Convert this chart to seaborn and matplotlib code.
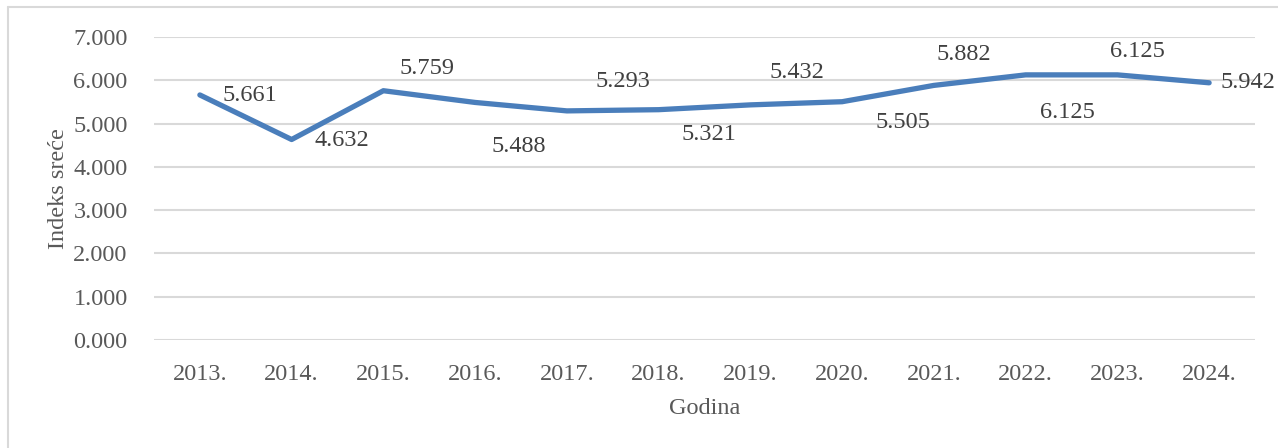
import matplotlib
matplotlib.use("Agg")
import matplotlib.pyplot as plt
import seaborn as sns
import pandas as pd
from matplotlib.lines import Line2D

# podaci
godine = ['2013.', '2014.', '2015.', '2016.', '2017.', '2018.',
          '2019.', '2020.', '2021.', '2022.', '2023.', '2024.']
indeks = [5.661, 4.632, 5.759, 5.488, 5.293, 5.321,
          5.432, 5.505, 5.882, 6.125, 6.125, 5.942]

# pomaci oznaka (px) kao u originalu
label_offsets = [(50, -1), (50, -1), (44, 22), (44, -44), (56, 29), (50, -25),
                 (47, 32), (61, -21), (30, 31), (42, -38), (20, 23), (39, 0)]

df = pd.DataFrame({'Godina': godine, 'Indeks': indeks})

sns.set_style("white")
plt.rcParams['font.family'] = ['Liberation Serif', 'DejaVu Serif']

text_col = '#595959'
fig = plt.figure(figsize=(12.78, 4.48), dpi=100)
ax = fig.add_axes([154 / 1278, 1 - 340 / 448, 1101 / 1278, 303 / 448])

sns.lineplot(data=df, x='Godina', y='Indeks', ax=ax, color='#4A7EBB',
             linewidth=3.8, solid_capstyle='round', sort=False)

ax.set_ylim(0, 7)
ax.set_xlim(-0.5, len(godine) - 0.5)
ax.set_yticks(range(0, 8))
ax.set_yticklabels([f'{v:.3f}' for v in range(0, 8)])
ax.grid(axis='y', color='#D9D9D9', linewidth=1.5)
ax.set_axisbelow(True)
for s in ax.spines.values():
    s.set_visible(False)
ax.tick_params(axis='both', length=0, labelsize=17.5, colors=text_col)
ax.tick_params(axis='y', pad=19)
ax.tick_params(axis='x', pad=17)

ax.set_xlabel('Godina', fontsize=17.5, color=text_col)
ax.set_ylabel('Indeks sreće', fontsize=17.5, color=text_col)
ax.xaxis.set_label_coords(0.5, -0.192)
ax.yaxis.set_label_coords(-0.077, 0.5)

for i, (v, off) in enumerate(zip(indeks, label_offsets)):
    ax.annotate(f'{v:.3f}', (i, v), xytext=off, textcoords='offset pixels',
                ha='center', va='center', fontsize=17.5, color='#404040',
                annotation_clip=False)

# okvir grafikona
fig.add_artist(Line2D([8 / 1278, 1], [1 - 7 / 448, 1 - 7 / 448], color='#D9D9D9', linewidth=1.5))
fig.add_artist(Line2D([8 / 1278, 8 / 1278], [0, 1 - 7 / 448], color='#D9D9D9', linewidth=1.5))

fig.savefig('out.png', dpi=100)
